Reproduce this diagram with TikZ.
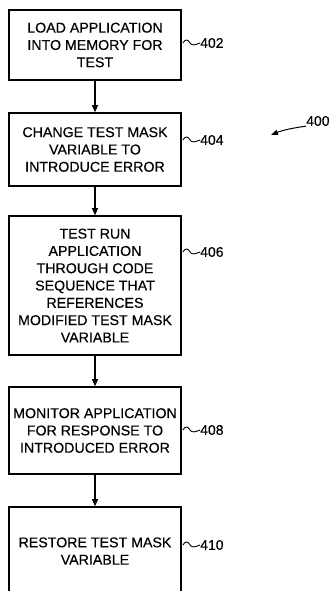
\documentclass[tikz,border=0pt]{standalone}
\usepackage{fontspec}
\setmainfont[FakeBold=0.4,AutoFakeBold=0.4]{Liberation Sans}
\usetikzlibrary{arrows.meta}
\begin{document}
\begin{tikzpicture}[x=1pt,y=-1pt,
  stepbox/.style={draw,line width=1.6pt,minimum width=172pt,align=center,inner sep=0pt,
    font=\bfseries\fontsize{14.2}{17.3}\selectfont},
  flow/.style={line width=1.1pt,-{Triangle[length=7pt,width=6pt]}},
  tag/.style={font=\bfseries\fontsize{14}{16}\selectfont,anchor=west,inner sep=0pt},
  squig/.style={line width=0.9pt}]
\useasboundingbox (0,0) rectangle (331,591);
\clip (0,0) rectangle (331,591);
\node[stepbox,minimum height=70pt] (b1) at (95,45) {LOAD APPLICATION\\INTO MEMORY FOR\\TEST};
\node[stepbox,minimum height=73pt] (b2) at (95,149.5) {CHANGE TEST MASK\\VARIABLE TO\\INTRODUCE ERROR};
\node[stepbox,minimum height=139pt] (b3) at (95,285.5) {TEST RUN\\APPLICATION\\THROUGH CODE\\SEQUENCE THAT\\REFERENCES\\MODIFIED TEST MASK\\VARIABLE};
\node[stepbox,minimum height=87pt] (b4) at (95,430.5) {MONITOR APPLICATION\\FOR RESPONSE TO\\INTRODUCED ERROR};
\node[stepbox,minimum height=88pt] (b5) at (95,551) {RESTORE TEST MASK\\VARIABLE};
\draw[flow] (b1) -- (b2);
\draw[flow] (b2) -- (b3);
\draw[flow] (b3) -- (b4);
\draw[flow] (b4) -- (b5);
\foreach \n/\y in {402/43,404/140,406/252,408/430,410/545}{
  \node[tag] (t\n) at (200,\y) {\n};
  \draw[squig] (183,\y) .. controls (185,\y-4) and (188,\y-4) .. (190,\y) .. controls (192,\y+3) and (195,\y+2) .. (t\n.west);
}
\node[tag] (t400) at (306,121) {400};
\coordinate (a400) at (271,135);
\draw[line width=1pt,-{Triangle[length=7pt,width=5pt]}] (t400.south west) .. controls (293,128) and (283,130) .. (a400);
\end{tikzpicture}
\end{document}
